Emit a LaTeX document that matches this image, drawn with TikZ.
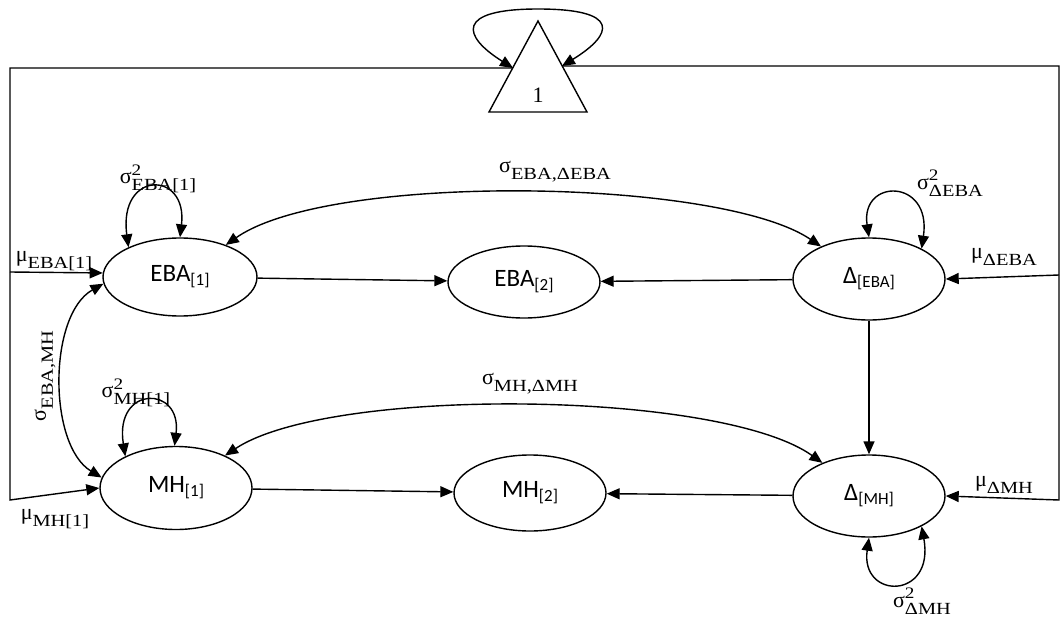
\documentclass[tikz,border=0pt]{standalone}
\usepackage{fontspec}
\newfontfamily\nodefont{Carlito}
\newfontfamily\labfont{Liberation Serif}
\newfontfamily\labsub[FakeStretch=1.2]{Liberation Serif}
\usetikzlibrary{arrows.meta,shapes.geometric}
\newcommand{\nsub}[1]{\raisebox{-4pt}{\fontsize{17}{17}\selectfont #1}}
% symbol, superscript, subscript
\newcommand{\vlab}[3]{\mbox{\labfont\fontsize{22}{26}\selectfont #1%
  \makebox[0pt][l]{\raisebox{8.5pt}{\labsub\fontsize{16}{16}\selectfont #2}}%
  \raisebox{-7pt}{\labsub\fontsize{17}{17}\selectfont #3}}}
\begin{document}
\begin{tikzpicture}[x=1pt,y=-1pt,
  var/.style={ellipse,draw,line width=1.4pt,inner sep=0pt,font=\nodefont\fontsize{25}{29}\selectfont},
  conn/.style={line width=1.4pt},
  arr/.style={conn,-{Triangle[length=13pt,width=11pt]}},
  darr/.style={conn,{Triangle[length=13pt,width=11pt]}-{Triangle[length=13pt,width=11pt]}},
  lab/.style={inner sep=0pt}]
\useasboundingbox (0,0) rectangle (1061,618);

% nodes
\node[var,minimum width=154pt,minimum height=78pt] (EBA1) at (180,277) {EBA\nsub{[1]}};
\node[var,minimum width=152pt,minimum height=72pt] (EBA2) at (524,282) {EBA\nsub{[2]}};
\node[var,minimum width=152pt,minimum height=82pt] (DEBA) at (869,279) {Δ\nsub{[EBA]}};
\node[var,minimum width=152pt,minimum height=83pt] (MH1) at (176,488) {MH\nsub{[1]}};
\node[var,minimum width=152pt,minimum height=76pt] (MH2) at (530,493) {MH\nsub{[2]}};
\node[var,minimum width=152pt,minimum height=82pt] (DMH) at (869,496) {Δ\nsub{[MH]}};

% constant triangle
\coordinate (tA) at (538,21);
\coordinate (tBL) at (489,112);
\coordinate (tBR) at (587,112);
\draw[conn] (tA) -- (tBL) -- (tBR) -- cycle;
\node[lab,font=\labfont\fontsize{22}{26}\selectfont] (one) at (538,95) {1};
\coordinate (tL) at (513,68);
\coordinate (tR) at (562,66);
\draw[darr] (tL) .. controls (462,36) and (455,9) .. (538,9) .. controls (621,9) and (614,34) .. (tR);

% outer paths
\coordinate (lTop) at (10,68);
\coordinate (lMid) at (10,272);
\coordinate (lBot) at (10,500);
\coordinate (rTop) at (1059,66);
\coordinate (rMid) at (1059,275);
\coordinate (rBot) at (1059,500);
\draw[arr] (tL) -- (lTop) -- (lBot) -- (MH1.west);
\draw[arr] (lMid) -- (EBA1.177);
\draw[arr] (tR) -- (rTop) -- (rBot) -- (DMH.east);
\draw[arr] (rMid) -- (DEBA.east);

% regressions
\draw[arr] (EBA1) -- (EBA2);
\draw[arr] (DEBA) -- (EBA2);
\draw[arr] (MH1) -- (MH2);
\draw[arr] (DMH) -- (MH2);
\draw[arr] (DEBA) -- (DMH);

% covariances
\draw[darr] (EBA1) .. controls (330,172) and (720,178) .. (DEBA);
\draw[darr] (MH1) .. controls (330,386) and (720,390) .. (DMH);
\draw[darr] (EBA1.185) .. controls (48,315) and (48,445) .. (MH1.172);

% variances
\draw[darr] (EBA1.150) .. controls (118,170) and (188,170) .. (EBA1.90);
\draw[darr] (MH1.148) .. controls (114,385) and (182,385) .. (MH1.92);
\draw[darr] (DEBA.90) .. controls (860,178) and (932,178) .. (DEBA.30);
\draw[darr] (DMH.270) .. controls (860,600) and (935,600) .. (DMH.330);

% labels
\node[lab] (lmuE) at (54,261) {\vlab{μ}{}{EBA[1]}};
\node[lab] (lmuM) at (55,519) {\vlab{μ}{}{MH[1]}};
\node[lab] (lmuDE) at (1004,257) {\vlab{μ}{}{ΔEBA}};
\node[lab] (lmuDM) at (1004,485) {\vlab{μ}{}{ΔMH}};
\node[lab] (lvE) at (158,179) {\vlab{σ}{2}{EBA[1]}};
\node[lab] (lvM) at (136,393) {\vlab{σ}{2}{MH[1]}};
\node[lab] (lvDE) at (950,183) {\vlab{σ}{2}{ΔEBA}};
\node[lab] (lvDM) at (922,601) {\vlab{σ}{2}{ΔMH}};
\node[lab] (lcE) at (555,172) {\vlab{σ}{}{EBA,ΔEBA}};
\node[lab] (lcM) at (530,384) {\vlab{σ}{}{MH,ΔMH}};
\node[lab,rotate=90] (lcEM) at (45,376) {\vlab{σ}{}{EBA,MH}};
\end{tikzpicture}
\end{document}
